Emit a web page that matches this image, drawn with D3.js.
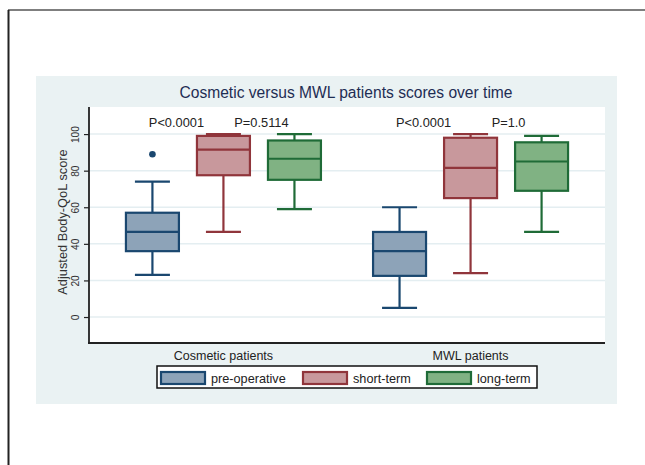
<!DOCTYPE html>
<html>
<head>
<meta charset="utf-8">
<script src="https://cdn.jsdelivr.net/npm/d3@7"></script>
<style>
  body { margin: 0; background: #fff; }
  svg { display: block; font-family: 'Liberation Sans', Arial, sans-serif; }
</style>
</head>
<body>
<div id="chart"></div>
<script>
// groups and series
var groups = ['Cosmetic patients', 'MWL patients'];
var series = ['pre-operative', 'short-term', 'long-term'];

// box stats per group: [lowWhisker, q1, median, q3, highWhisker]
var cosmeticStats = [
  [23, 36, 46.5, 57, 74],
  [46.5, 77.5, 91.5, 99, 100],
  [59, 75, 86.5, 96.5, 100]
];
var mwlStats = [
  [5, 22.5, 36, 46.5, 60],
  [24, 65, 81.5, 98, 100],
  [46.5, 69, 85, 95.5, 99]
];
var cosmeticOutliers = [[89], [], []];
var mwlOutliers = [[], [], []];

// p-value labels (between pre/short, short/long)
var pLabels = [['P<0.0001', 'P=0.5114'], ['P<0.0001', 'P=1.0']];

var yTicks = [0, 20, 40, 60, 80, 100];

var strokeColors = ['#1a476f', '#90353b', '#1f6b37'];
var fillColors = ['#8da3b8', '#c8989c', '#80b283'];

var W = 645, H = 465;
var svg = d3.select('#chart').append('svg')
  .attr('width', W)
  .attr('height', H);

// outer frame lines
svg.append('line').attr('x1', 8).attr('x2', W).attr('y1', 10).attr('y2', 10)
  .attr('stroke', '#555').attr('stroke-width', 1.5);
svg.append('line').attr('x1', 8.5).attr('x2', 8.5).attr('y1', 10).attr('y2', H)
  .attr('stroke', '#222').attr('stroke-width', 2);

// graph background
svg.append('rect').attr('x', 36).attr('y', 76).attr('width', 581).attr('height', 328)
  .attr('fill', '#eaf2f3');

var plot = { left: 89, right: 605, top: 107, bottom: 343 };

svg.append('rect')
  .attr('x', plot.left).attr('y', plot.top)
  .attr('width', plot.right - plot.left).attr('height', plot.bottom - plot.top)
  .attr('fill', '#fff');

var y = d3.scaleLinear().domain([-14.2, 114.8]).range([plot.bottom, plot.top]);

var x0 = d3.scaleBand()
  .domain(groups)
  .range([plot.left, plot.right])
  .paddingInner(0)
  .paddingOuter(0.044);

var x1 = d3.scaleBand()
  .domain(series)
  .range([-97.5, 97.5])
  .paddingInner(0.254)
  .paddingOuter(0);

// gridlines
svg.append('g').selectAll('line')
  .data(yTicks)
  .enter().append('line')
  .attr('x1', plot.left).attr('x2', plot.right)
  .attr('y1', function (d) { return y(d); })
  .attr('y2', function (d) { return y(d); })
  .attr('stroke', '#e4eef1')
  .attr('stroke-width', 1.5);

// y axis
var yAxis = d3.axisLeft(y).tickValues(yTicks).tickSize(5).tickSizeOuter(0);
var yg = svg.append('g')
  .attr('transform', 'translate(' + plot.left + ',0)')
  .call(yAxis);
yg.select('.domain').attr('stroke', '#222').attr('stroke-width', 1.8)
  .attr('d', 'M0,' + plot.top + 'V' + plot.bottom);
yg.selectAll('.tick line').attr('stroke', '#222').attr('stroke-width', 1.2);
yg.selectAll('.tick text')
  .attr('font-size', 10.2)
  .attr('fill', '#333')
  .attr('x', 0).attr('dy', 0).attr('y', 0)
  .attr('text-anchor', 'middle')
  .attr('transform', 'translate(-10.5,0) rotate(-90)');

// x axis line
svg.append('line')
  .attr('x1', plot.left - 1).attr('x2', plot.right)
  .attr('y1', plot.bottom).attr('y2', plot.bottom)
  .attr('stroke', '#222').attr('stroke-width', 1.8);

// group labels
svg.append('g').selectAll('text')
  .data(groups)
  .enter().append('text')
  .attr('x', function (d) { return x0(d) + x0.bandwidth() / 2; })
  .attr('y', 360)
  .attr('text-anchor', 'middle')
  .attr('font-size', 12.5)
  .attr('fill', '#222')
  .text(function (d) { return d; });

// y title
svg.append('text')
  .attr('transform', 'translate(67,' + ((plot.top + plot.bottom) / 2 - 3) + ') rotate(-90)')
  .attr('text-anchor', 'middle')
  .attr('font-size', 12.8)
  .attr('fill', '#333')
  .text('Adjusted Body-QoL score');

// title
svg.append('text')
  .attr('x', 346).attr('y', 98)
  .attr('text-anchor', 'middle')
  .attr('font-size', 15.6)
  .attr('fill', '#1e2d53')
  .text('Cosmetic versus MWL patients scores over time');

// boxes
var allStats = [cosmeticStats, mwlStats];
var allOutliers = [cosmeticOutliers, mwlOutliers];
var boxW = x1.bandwidth();
var capW = 35;

groups.forEach(function (g, gi) {
  var gx = x0(g) + x0.bandwidth() / 2;
  series.forEach(function (s, si) {
    var st = allStats[gi][si];
    var cx = gx + x1(s) + boxW / 2;
    var grp = svg.append('g');
    var sc = strokeColors[si];
    // whiskers
    grp.append('line').attr('x1', cx).attr('x2', cx)
      .attr('y1', y(st[0])).attr('y2', y(st[1]))
      .attr('stroke', sc).attr('stroke-width', 2.2);
    grp.append('line').attr('x1', cx).attr('x2', cx)
      .attr('y1', y(st[3])).attr('y2', y(st[4]))
      .attr('stroke', sc).attr('stroke-width', 2.2);
    grp.append('line').attr('x1', cx - capW / 2).attr('x2', cx + capW / 2)
      .attr('y1', y(st[0])).attr('y2', y(st[0]))
      .attr('stroke', sc).attr('stroke-width', 2.2);
    grp.append('line').attr('x1', cx - capW / 2).attr('x2', cx + capW / 2)
      .attr('y1', y(st[4])).attr('y2', y(st[4]))
      .attr('stroke', sc).attr('stroke-width', 2.2);
    // box
    grp.append('rect')
      .attr('x', cx - boxW / 2).attr('width', boxW)
      .attr('y', y(st[3])).attr('height', y(st[1]) - y(st[3]))
      .attr('fill', fillColors[si])
      .attr('stroke', sc).attr('stroke-width', 2.2);
    grp.append('line').attr('x1', cx - boxW / 2).attr('x2', cx + boxW / 2)
      .attr('y1', y(st[2])).attr('y2', y(st[2]))
      .attr('stroke', sc).attr('stroke-width', 2.2);
    // outliers
    grp.selectAll('circle')
      .data(allOutliers[gi][si])
      .enter().append('circle')
      .attr('cx', cx).attr('cy', function (d) { return y(d); })
      .attr('r', 3.3)
      .attr('fill', sc);
  });
  // p-values
  svg.append('text')
    .attr('x', gx - 47).attr('y', 127)
    .attr('text-anchor', 'middle')
    .attr('font-size', 12.8)
    .attr('fill', '#222')
    .text(pLabels[gi][0]);
  svg.append('text')
    .attr('x', gx + 38).attr('y', 127)
    .attr('text-anchor', 'middle')
    .attr('font-size', 12.8)
    .attr('fill', '#222')
    .text(pLabels[gi][1]);
});

// legend
var legend = svg.append('g');
legend.append('rect')
  .attr('x', 157).attr('y', 366).attr('width', 380).attr('height', 22)
  .attr('fill', '#fff').attr('stroke', '#111').attr('stroke-width', 1.5);
var legX = [161, 303, 427];
series.forEach(function (s, si) {
  legend.append('rect')
    .attr('x', legX[si]).attr('y', 372).attr('width', 44).attr('height', 12)
    .attr('fill', fillColors[si]).attr('stroke', strokeColors[si]).attr('stroke-width', 2.2);
  legend.append('text')
    .attr('x', legX[si] + 50).attr('y', 382.5)
    .attr('font-size', 12.7)
    .attr('fill', '#222')
    .text(s);
});
</script>
</body>
</html>
